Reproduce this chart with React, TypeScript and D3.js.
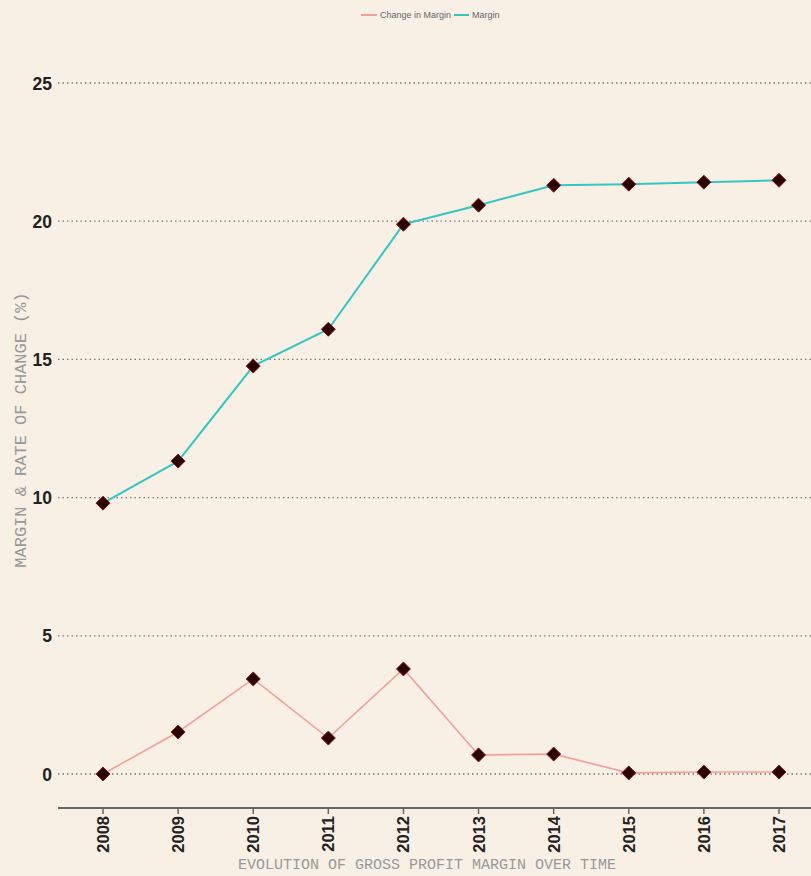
import React from "react";
import * as d3 from "d3";

const years = ["2008","2009","2010","2011","2012","2013","2014","2015","2016","2017"];
const margin = [9.8, 11.32, 14.76, 16.09, 19.89, 20.58, 21.3, 21.34, 21.41, 21.48];
const changeInMargin = [0, 1.52, 3.44, 1.3, 3.8, 0.69, 0.72, 0.04, 0.07, 0.07];
const yTicks = [0, 5, 10, 15, 20, 25];
const seriesNames = ["Change in Margin", "Margin"];
const seriesColors = ["#f2a09a", "#36c6c2"];

export default function App() {
  const W = 811, H = 876;
  const x = d3.scalePoint<string>().domain(years).range([103, 779]);
  const y = d3.scaleLinear().domain([0, 25]).range([774, 83]);
  const line = d3.line<number>().x((_, i) => x(years[i])!).y(d => y(d));
  const r = 7;
  const diamond = `M0,${-r}L${r},0L0,${r}L${-r},0Z`;
  const series = [changeInMargin, margin];
  const bg = "#f8f0e5";
  return (
    <svg width={W} height={H} style={{ position: "absolute", left: 0, top: 0 }}>
      <rect x={0} y={0} width={W} height={H} fill={bg} />
      {/* legend */}
      <g fontFamily="Liberation Sans, Arial, sans-serif" fontSize={9} fill="#666">
        <line x1={361} x2={377} y1={15} y2={15} stroke={seriesColors[0]} strokeWidth={2} />
        <text x={380} y={18}>{seriesNames[0]}</text>
        <line x1={454} x2={469} y1={15} y2={15} stroke={seriesColors[1]} strokeWidth={2} />
        <text x={472} y={18}>{seriesNames[1]}</text>
      </g>
      {/* grid */}
      {yTicks.map(t => (
        <g key={t}>
          <line x1={58} x2={W} y1={y(t)} y2={y(t)} stroke="#777" strokeWidth={1.3} strokeDasharray="1.5,3" />
          <text x={52} y={y(t) + 6.5} textAnchor="end" fontFamily="Liberation Sans, Arial, sans-serif" fontWeight="bold" fontSize={17.5} fill="#222">{t}</text>
        </g>
      ))}
      {/* x axis */}
      <line x1={58} x2={W} y1={808} y2={808} stroke="#666" strokeWidth={2} />
      {years.map(yr => (
        <g key={yr}>
          <line x1={x(yr)} x2={x(yr)} y1={808} y2={814} stroke="#666" strokeWidth={1.5} />
          <text transform={`translate(${x(yr)! + 6},816) rotate(-90)`} textAnchor="end" fontFamily="Liberation Sans, Arial, sans-serif" fontWeight="bold" fontSize={16.5} fill="#222">{yr}</text>
        </g>
      ))}
      {/* lines */}
      {series.map((s, k) => (
        <path key={k} d={line(s)!} fill="none" stroke={seriesColors[k]} strokeWidth={k === 1 ? 2 : 1.6} />
      ))}
      {series.map((s, k) => s.map((v, i) => (
        <path key={k + "-" + i} d={diamond} transform={`translate(${x(years[i])},${y(v)})`} fill="#2a0000" stroke="#8a1a1a" strokeWidth={1} />
      )))}
      {/* axis titles */}
      <text transform="translate(26,430) rotate(-90)" textAnchor="middle" fontFamily="Liberation Mono, Courier New, monospace" fontSize={17} fill="#999">MARGIN &amp; RATE OF CHANGE (%)</text>
      <text x={427} y={869} textAnchor="middle" fontFamily="Liberation Mono, Courier New, monospace" fontSize={15} fill="#999">EVOLUTION OF GROSS PROFIT MARGIN OVER TIME</text>
    </svg>
  );
}
